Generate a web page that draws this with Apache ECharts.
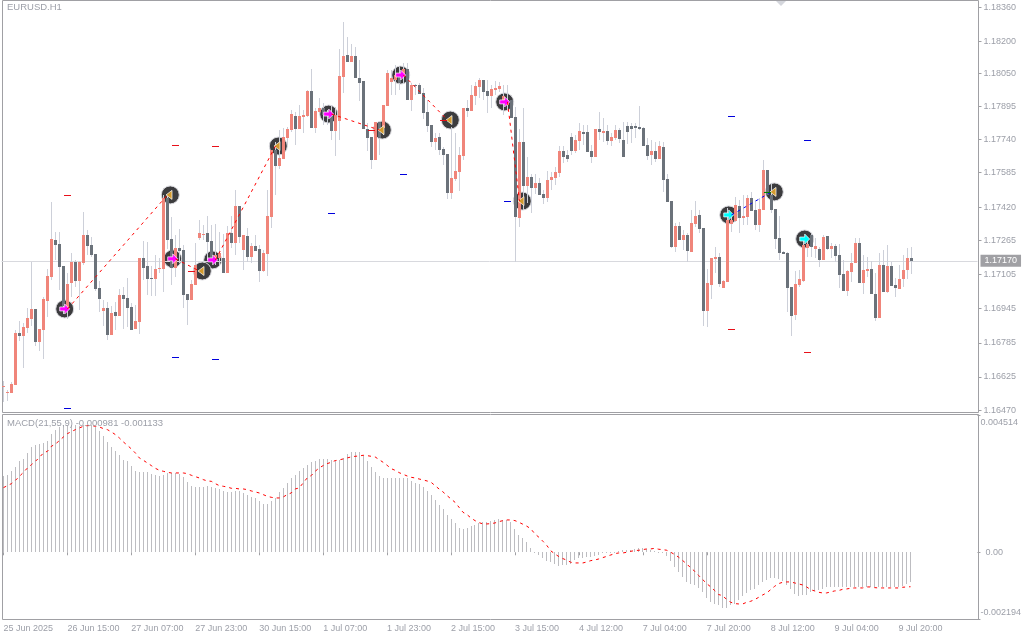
<!DOCTYPE html>
<html>
<head>
<meta charset="utf-8">
<style>html,body{margin:0;padding:0;background:#fff}#c{width:1024px;height:640px}</style>
<script src="https://cdn.jsdelivr.net/npm/echarts@6/dist/echarts.min.js"></script>
</head>
<body>
<div id="c"></div>
<script>
const tickLabels=['25 Jun 2025','26 Jun 15:00','27 Jun 07:00','27 Jun 23:00','30 Jun 15:00','1 Jul 07:00','1 Jul 23:00','2 Jul 15:00','3 Jul 15:00','4 Jul 12:00','7 Jul 04:00','7 Jul 20:00','8 Jul 12:00','9 Jul 04:00','9 Jul 20:00'];
const priceTicks=[1.18360,1.18200,1.18050,1.17895,1.17740,1.17585,1.17420,1.17265,1.17105,1.16945,1.16785,1.16625,1.16470];
const macdTicks=[-0.002194,0,0.004514];
const lastPrice=1.17170;
const opens=[1.16578,1.16550,1.16550,1.16588,1.16831,1.16817,1.16855,1.16897,1.16944,1.16789,
1.16845,1.16981,1.17094,1.17267,1.17248,1.17146,1.16939,1.17066,1.17165,1.17075,
1.17160,1.17291,1.17244,1.17202,1.17043,1.16934,1.16948,1.16822,1.16930,1.16911,
1.17009,1.16995,1.16953,1.16850,1.16883,1.17183,1.17146,1.17089,1.17085,1.17132,
1.17132,1.17464,1.17272,1.17136,1.17230,1.17221,1.17014,1.16986,1.17057,1.17277,
1.17291,1.17300,1.17262,1.17174,1.17183,1.17183,1.17113,1.17300,1.17253,1.17427,
1.17221,1.17286,1.17188,1.17239,1.17225,1.17122,1.17202,1.17375,1.17690,1.17615,
1.17648,1.17746,1.17783,1.17849,1.17788,1.17844,1.17849,1.17966,1.17793,1.17868,
1.17886,1.17849,1.17853,1.17779,1.17825,1.18032,1.18135,1.18102,1.18130,1.18027,
1.18013,1.17788,1.17750,1.17643,1.17821,1.17793,1.17896,1.18009,1.18018,1.18041,
1.18037,1.18070,1.17924,1.17994,1.17994,1.17957,1.17868,1.17807,1.17727,1.17750,
1.17694,1.17671,1.17488,1.17554,1.17587,1.17662,1.17886,1.17872,1.17943,1.17985,
1.18018,1.17966,1.17943,1.17971,1.17976,1.17910,1.17900,1.17924,1.17844,1.17371,
1.17727,1.17521,1.17563,1.17511,1.17535,1.17483,1.17464,1.17549,1.17558,1.17582,
1.17685,1.17666,1.17750,1.17685,1.17732,1.17774,1.17774,1.17685,1.17657,1.17788,
1.17769,1.17779,1.17732,1.17746,1.17783,1.17736,1.17802,1.17802,1.17802,1.17797,
1.17793,1.17713,1.17666,1.17685,1.17648,1.17704,1.17554,1.17450,1.17235,1.17333,
1.17267,1.17291,1.17211,1.17342,1.17385,1.17324,1.16934,1.17057,1.17178,1.17188,
1.17043,1.17071,1.17342,1.17356,1.17427,1.17371,1.17375,1.17464,1.17408,1.17337,
1.17408,1.17596,1.17479,1.17413,1.17277,1.17211,1.17207,1.17047,1.16915,1.17057,
1.17075,1.17230,1.17291,1.17225,1.17225,1.17174,1.17286,1.17225,1.17239,1.17197,
1.17108,1.17028,1.17118,1.17160,1.17253,1.17066,1.17122,1.17132,1.17014,1.16901,
1.17151,1.17024,1.17146,1.17057,1.17038,1.17085,1.17127,1.17183];
const closes=[1.16583,1.16555,1.16592,1.16831,1.16817,1.16859,1.16901,1.16944,1.16789,1.16850,
1.16991,1.17099,1.17272,1.17244,1.17141,1.16958,1.17061,1.17165,1.17075,1.17165,
1.17291,1.17239,1.17197,1.17038,1.16991,1.16948,1.16822,1.16925,1.16911,1.17009,
1.16991,1.16948,1.16845,1.16887,1.17183,1.17136,1.17085,1.17085,1.17132,1.17136,
1.17464,1.17267,1.17136,1.17230,1.17216,1.17009,1.16986,1.17061,1.17151,1.17300,
1.17295,1.17258,1.17183,1.17197,1.17207,1.17113,1.17300,1.17253,1.17427,1.17281,
1.17291,1.17188,1.17239,1.17216,1.17122,1.17207,1.17380,1.17690,1.17615,1.17652,
1.17750,1.17788,1.17858,1.17788,1.17849,1.17853,1.17966,1.17793,1.17872,1.17886,
1.17853,1.17863,1.17779,1.17853,1.18037,1.18130,1.18102,1.18130,1.18027,1.18004,
1.17788,1.17746,1.17643,1.17821,1.17746,1.17900,1.18051,1.18027,1.18041,1.18004,
1.18070,1.17924,1.17994,1.17990,1.17952,1.17863,1.17802,1.17727,1.17746,1.17690,
1.17666,1.17488,1.17558,1.17591,1.17666,1.17886,1.17872,1.17948,1.17990,1.18018,
1.17962,1.17943,1.17976,1.17980,1.17990,1.17943,1.17924,1.17839,1.17375,1.17727,
1.17521,1.17563,1.17511,1.17535,1.17479,1.17464,1.17549,1.17563,1.17587,1.17685,
1.17657,1.17648,1.17685,1.17736,1.17779,1.17765,1.17680,1.17657,1.17788,1.17774,
1.17779,1.17732,1.17750,1.17783,1.17741,1.17657,1.17774,1.17788,1.17793,1.17788,
1.17708,1.17662,1.17685,1.17648,1.17708,1.17549,1.17446,1.17235,1.17333,1.17267,
1.17291,1.17216,1.17347,1.17380,1.17319,1.16934,1.17066,1.17183,1.17188,1.17061,
1.17075,1.17361,1.17361,1.17432,1.17371,1.17380,1.17464,1.17403,1.17337,1.17413,
1.17596,1.17479,1.17408,1.17272,1.17207,1.17202,1.17043,1.16911,1.17061,1.17085,
1.17244,1.17248,1.17235,1.17239,1.17174,1.17281,1.17225,1.17239,1.17193,1.17104,
1.17028,1.17122,1.17160,1.17253,1.17066,1.17127,1.17132,1.17014,1.16901,1.17151,
1.17024,1.17146,1.17052,1.17042,1.17085,1.17127,1.17183,1.17170];
const highs=[1.16606,1.16564,1.16602,1.16845,1.16887,1.16878,1.16948,1.17165,1.16944,1.16850,
1.17000,1.17132,1.17446,1.17305,1.17305,1.17146,1.17113,1.17207,1.17174,1.17169,
1.17399,1.17314,1.17281,1.17202,1.17075,1.16986,1.16977,1.16958,1.16977,1.17038,
1.17047,1.17089,1.16972,1.16963,1.17183,1.17262,1.17258,1.17146,1.17198,1.17183,
1.17478,1.17478,1.17375,1.17291,1.17319,1.17244,1.17014,1.17080,1.17253,1.17361,
1.17337,1.17380,1.17337,1.17342,1.17305,1.17295,1.17333,1.17380,1.17502,1.17427,
1.17291,1.17324,1.17253,1.17291,1.17244,1.17221,1.17502,1.17690,1.17727,1.17783,
1.17793,1.17797,1.17877,1.17868,1.17900,1.17877,1.17971,1.18070,1.17886,1.17933,
1.17910,1.17877,1.17900,1.17891,1.18163,1.18290,1.18219,1.18186,1.18172,1.18112,
1.18013,1.17816,1.17750,1.17821,1.17821,1.17900,1.18065,1.18065,1.18088,1.18079,
1.18098,1.18098,1.18004,1.17999,1.18004,1.17980,1.17924,1.17807,1.17769,1.17769,
1.17704,1.17671,1.17797,1.17769,1.17704,1.17886,1.17924,1.17994,1.18009,1.18027,
1.18018,1.18018,1.17994,1.18013,1.18009,1.17994,1.17994,1.17924,1.17891,1.17788,
1.17886,1.17657,1.17577,1.17577,1.17558,1.17502,1.17591,1.17587,1.17610,1.17708,
1.17708,1.17690,1.17769,1.17760,1.17816,1.17807,1.17807,1.17713,1.17788,1.17868,
1.17840,1.17807,1.17769,1.17807,1.17793,1.17821,1.17821,1.17816,1.17816,1.17896,
1.17797,1.17746,1.17736,1.17727,1.17732,1.17727,1.17577,1.17450,1.17347,1.17352,
1.17314,1.17300,1.17408,1.17450,1.17408,1.17324,1.17132,1.17183,1.17235,1.17207,
1.17080,1.17418,1.17385,1.17469,1.17455,1.17478,1.17478,1.17493,1.17455,1.17464,
1.17643,1.17596,1.17535,1.17413,1.17380,1.17216,1.17211,1.17047,1.17122,1.17127,
1.17267,1.17281,1.17295,1.17277,1.17235,1.17291,1.17286,1.17253,1.17248,1.17248,
1.17174,1.17127,1.17207,1.17277,1.17277,1.17197,1.17188,1.17169,1.17113,1.17207,
1.17221,1.17244,1.17165,1.17089,1.17151,1.17197,1.17230,1.17235];
const lows=[1.16508,1.16512,1.16550,1.16588,1.16793,1.16667,1.16831,1.16864,1.16771,1.16747,
1.16709,1.16906,1.17080,1.17174,1.17033,1.16920,1.16897,1.17000,1.17047,1.16939,
1.17151,1.17197,1.17188,1.17028,1.16930,1.16864,1.16798,1.16822,1.16845,1.16911,
1.16850,1.16859,1.16845,1.16850,1.16827,1.17080,1.17009,1.17005,1.17005,1.17113,
1.17024,1.17225,1.17057,1.17094,1.17160,1.16948,1.16869,1.16986,1.17057,1.17267,
1.17267,1.17174,1.17165,1.17151,1.17151,1.17113,1.17113,1.17230,1.17197,1.17253,
1.17127,1.17165,1.17160,1.17216,1.17071,1.17118,1.17099,1.17324,1.17479,1.17601,
1.17648,1.17713,1.17774,1.17713,1.17788,1.17769,1.17844,1.17793,1.17769,1.17863,
1.17807,1.17807,1.17736,1.17662,1.17736,1.17957,1.18102,1.18102,1.18027,1.17919,
1.17788,1.17685,1.17601,1.17643,1.17666,1.17760,1.17896,1.17948,1.17948,1.17971,
1.18004,1.17924,1.17872,1.17948,1.17952,1.17835,1.17774,1.17704,1.17690,1.17666,
1.17619,1.17460,1.17460,1.17544,1.17497,1.17643,1.17844,1.17872,1.17900,1.17933,
1.17924,1.17863,1.17886,1.17948,1.17962,1.17853,1.17877,1.17839,1.17165,1.17328,
1.17408,1.17441,1.17394,1.17483,1.17479,1.17436,1.17446,1.17502,1.17525,1.17563,
1.17629,1.17633,1.17666,1.17676,1.17690,1.17713,1.17680,1.17629,1.17657,1.17736,
1.17727,1.17713,1.17708,1.17736,1.17722,1.17657,1.17718,1.17722,1.17746,1.17783,
1.17708,1.17643,1.17619,1.17633,1.17648,1.17493,1.17446,1.17230,1.17211,1.17267,
1.17221,1.17165,1.17211,1.17328,1.17300,1.16864,1.16859,1.16991,1.17113,1.17047,
1.17043,1.17071,1.17305,1.17352,1.17300,1.17337,1.17337,1.17403,1.17314,1.17305,
1.17408,1.17479,1.17394,1.17225,1.17174,1.17202,1.16930,1.16817,1.16892,1.17047,
1.17071,1.17188,1.17188,1.17183,1.17141,1.17174,1.17221,1.17183,1.17165,1.17042,
1.17028,1.17005,1.17071,1.17160,1.17066,1.17014,1.17094,1.17014,1.16887,1.16901,
1.17024,1.17019,1.17052,1.17000,1.17038,1.17047,1.17085,1.17108];
const macdHist=[0.002499,0.002554,0.002663,0.002795,0.002992,0.003080,0.003255,0.003452,0.003518,0.003551,
0.003595,0.003672,0.003902,0.004033,0.004121,0.004176,0.004176,0.004176,0.004176,0.004143,
0.004176,0.004176,0.004176,0.004110,0.003978,0.003814,0.003628,0.003452,0.003321,0.003189,
0.003047,0.002992,0.002850,0.002685,0.002630,0.002652,0.002652,0.002587,0.002554,0.002521,
0.002554,0.002608,0.002608,0.002608,0.002587,0.002488,0.002324,0.002192,0.002159,0.002159,
0.002159,0.002192,0.002159,0.002126,0.002082,0.002028,0.001995,0.001995,0.002028,0.002028,
0.001962,0.001896,0.001830,0.001797,0.001699,0.001600,0.001600,0.001699,0.001797,0.001995,
0.002126,0.002291,0.002455,0.002554,0.002685,
0.002784,0.002882,0.002981,0.003014,0.003080,0.003080,0.003080,0.003047,0.003014,0.003047,
0.003113,0.003233,0.003310,0.003310,0.003310,0.003178,0.003014,0.002817,0.002652,0.002521,
0.002455,0.002455,0.002455,0.002455,0.002455,0.002455,0.002455,0.002356,0.002291,0.002258,
0.002159,0.002028,0.001896,0.001732,0.001567,0.001436,0.001238,0.001107,0.000975,0.000811,
0.000778,0.000811,0.000877,0.000910,0.000975,0.001008,0.001008,0.001041,0.001074,0.001107,
0.001074,0.001074,0.001008,0.000778,0.000581,0.000482,0.000351,0.000153,0.000022,-0.000077,
-0.000197,-0.000296,-0.000329,-0.000373,-0.000438,-0.000406,-0.000406,-0.000373,-0.000241,-0.000175,
-0.000175,-0.000142,-0.000142,-0.000110,-0.000077,-0.000033,0.000000,0.000022,0.000022,0.000055,
0.000066,0.000066,0.000088,0.000110,0.000132,0.000142,0.000110,0.000088,0.000044,0.000022,
0.000000,-0.000110,-0.000296,-0.000482,-0.000658,-0.000822,-0.000975,-0.001041,-0.001085,-0.001173,
-0.001315,-0.001512,-0.001633,-0.001688,-0.001732,-0.001841,-0.001841,-0.001721,-0.001688,-0.001556,
-0.001447,-0.001337,-0.001249,-0.001206,-0.001063,-0.000986,-0.000899,-0.000855,-0.000844,-0.000877,
-0.000954,-0.001063,-0.001206,-0.001359,-0.001425,-0.001414,-0.001392,-0.001315,-0.001282,-0.001228,
-0.001206,-0.001151,-0.001140,-0.001140,-0.001140,-0.001140,-0.001140,-0.001140,-0.001140,-0.001140,
-0.001140,-0.001140,-0.001140,-0.001140,-0.001140,-0.001140,-0.001140,-0.001140,-0.001140,-0.001140,
-0.001118,-0.001041,-0.000981];
const macdSignal=[0.002126,0.002192,0.002258,0.002367,0.002499,0.002630,0.002773,0.002882,0.002992,0.003124,
0.003266,0.003321,0.003485,0.003562,0.003672,0.003792,0.003902,0.003968,0.004033,0.004088,
0.004143,0.004165,0.004165,0.004143,0.004121,0.004066,0.004033,0.003957,0.003869,0.003759,
0.003628,0.003518,0.003398,0.003266,0.003102,0.003025,0.002937,0.002850,0.002762,0.002696,
0.002663,0.002630,0.002608,0.002608,0.002608,0.002608,0.002587,0.002532,0.002488,0.002444,
0.002389,0.002345,0.002334,0.002258,0.002192,0.002170,0.002148,0.002104,0.002104,0.002082,
0.002082,0.002060,0.002017,0.001984,0.001951,0.001896,0.001841,0.001808,0.001786,0.001786,
0.001819,0.001896,0.001951,0.002082,0.002115,
0.002280,0.002444,0.002521,0.002663,0.002773,0.002850,0.002915,0.002959,0.003014,0.003036,
0.003069,0.003102,0.003135,0.003156,0.003167,0.003189,0.003178,0.003156,0.003135,0.003047,
0.002959,0.002861,0.002751,0.002696,0.002619,0.002565,0.002510,0.002466,0.002444,0.002411,
0.002378,0.002345,0.002302,0.002192,0.002082,0.001984,0.001863,0.001754,0.001644,0.001480,
0.001315,0.001238,0.001129,0.001041,0.000975,0.000932,0.000932,0.000943,0.000964,0.001008,
0.001041,0.001063,0.001063,0.001041,0.000986,0.000921,0.000855,0.000767,0.000603,0.000493,
0.000362,0.000219,0.000044,-0.000055,-0.000142,-0.000208,-0.000263,-0.000329,-0.000351,-0.000351,
-0.000351,-0.000318,-0.000274,-0.000252,-0.000219,-0.000175,-0.000132,-0.000088,-0.000044,-0.000022,
-0.000022,0.000000,0.000033,0.000055,0.000066,0.000088,0.000110,0.000110,0.000132,0.000099,
0.000088,0.000066,0.000000,-0.000077,-0.000164,-0.000274,-0.000384,-0.000515,-0.000625,-0.000767,
-0.000899,-0.001030,-0.001140,-0.001260,-0.001392,-0.001425,-0.001556,-0.001644,-0.001688,-0.001699,
-0.001699,-0.001644,-0.001611,-0.001556,-0.001480,-0.001403,-0.001337,-0.001228,-0.001118,-0.001030,
-0.000986,-0.000975,-0.000975,-0.001008,-0.001041,-0.001074,-0.001140,-0.001228,-0.001271,-0.001315,
-0.001337,-0.001337,-0.001304,-0.001271,-0.001260,-0.001217,-0.001206,-0.001184,-0.001173,-0.001173,
-0.001173,-0.001140,-0.001140,-0.001162,-0.001173,-0.001173,-0.001173,-0.001173,-0.001173,-0.001173,
-0.001151,-0.001140,-0.001133];
const buyEntryIdx=[16,43,53,82,100,126];
const buyEntryPrice=[1.16944,1.17179,1.17174,1.17858,1.18041,1.17915];
const sellEntryIdx=[182,201];
const sellEntryPrice=[1.17385,1.17272];
const exitIdx=[41,49,68,94,111,129,192];
const exitPrice=[1.17479,1.17122,1.17708,1.17783,1.17830,1.17450,1.17493];
const upperRedIdx=[16,43,53,182,201];
const upperRedPrice=[1.17479,1.17713,1.17708,1.16850,1.16742];
const blueIdx=[16,43,53,82,100,126,182,201];
const bluePrice=[1.16479,1.16719,1.16709,1.17394,1.17577,1.17450,1.17849,1.17736];
const redTickIdx=[47,92,110];
const redTickPrice=[1.17122,1.17783,1.17830];
const greenTickIdx=[191];
const greenTickPrice=[1.17493];

const BAR_SLOTS=244;
const categories=Array.from({length:BAR_SLOTS},(_,i)=>i%16===0&&tickLabels[i/16]?tickLabels[i/16]:'');
const candleData=opens.map((o,i)=>[i,o,closes[i],lows[i],highs[i]]);
const entries=buyEntryIdx.map((x,i)=>[x,buyEntryPrice[i]]);
const sells=sellEntryIdx.map((x,i)=>[x,sellEntryPrice[i]]);
const exits=exitIdx.map((x,i)=>[x,exitPrice[i]]);
const allEntries=entries.concat(sells);

const UP='#F0857A',DOWN='#6B727A',WICK='#CDD0D9',TXT='#9C9FA8',FRAME='#A0A0A4';
const FONT='"Liberation Sans",sans-serif';

function renderCandle(p,api){
  const i=api.value(0),o=api.value(1),c=api.value(2),l=api.value(3),h=api.value(4);
  const cx=api.coord([i,o])[0];
  const y=v=>Math.round(api.coord([i,v])[1]);
  const top=y(Math.max(o,c)),bot=y(Math.min(o,c));
  return {type:'group',children:[
    {type:'rect',shape:{x:cx-0.5,y:y(h),width:1,height:Math.max(1,y(l)-y(h))},style:{fill:WICK}},
    {type:'rect',shape:{x:cx-1.5,y:top,width:3,height:Math.max(1,bot-top)},style:{fill:c>=o?UP:DOWN}}
  ]};
}
function renderHist(p,api){
  const i=api.value(0),v=api.value(1);
  const a=api.coord([i,v]),b=api.coord([i,0]);
  const y0=Math.round(a[1]),y1=Math.round(b[1]);
  return {type:'rect',shape:{x:Math.round(a[0]-0.5),y:Math.min(y0,y1),width:1,height:Math.max(1,Math.abs(y1-y0))},style:{fill:'#BDBDC1'}};
}
function dashSeries(idx,price,color){
  return {type:'custom',xAxisIndex:0,yAxisIndex:0,z:6,silent:true,clip:true,
    data:idx.map((x,i)=>[x,price[i]]),encode:{x:0,y:1},
    renderItem:(p,api)=>{
      const c=api.coord([api.value(0),api.value(1)]);
      return {type:'rect',shape:{x:c[0]-3.5,y:Math.round(c[1]),width:7,height:1},style:{fill:color}};
    }};
}
function tradeLine(a,b,color){
  return {type:'line',xAxisIndex:0,yAxisIndex:0,z:5,silent:true,symbol:'none',data:[a,b],
    lineStyle:{color:color,width:1,type:[3,4]}};
}
const ARROW='path://M0 3H5V0L10 5L5 10V7H0Z';
const TRI='path://M10 0V10L0 5Z';

const option={
  animation:false,backgroundColor:'#ffffff',
  textStyle:{fontFamily:FONT},
  title:[
    {text:'EURUSD.H1',left:7,top:2,padding:0,textStyle:{fontSize:9.5,fontWeight:'normal',color:TXT,fontFamily:FONT}},
    {text:'MACD(21,55,9) -0.000981 -0.001133',left:7,top:418,padding:0,textStyle:{fontSize:9.5,fontWeight:'normal',color:TXT,fontFamily:FONT}}
  ],
  graphic:[
    {type:'rect',silent:true,z:0,shape:{x:2.5,y:0.5,width:976,height:412},style:{fill:'none',stroke:FRAME,lineWidth:1}},
    {type:'rect',silent:true,z:0,shape:{x:2.5,y:414.5,width:976,height:205},style:{fill:'none',stroke:FRAME,lineWidth:1}},
    {type:'polygon',silent:true,z:10,shape:{points:[[776,1],[786,1],[781,6]]},style:{fill:'#D4D6DC'}}
  ],
  grid:[
    {left:1.5,width:976,top:1,height:411,containLabel:false},
    {left:1.5,width:976,top:415,height:204,containLabel:false}
  ],
  xAxis:[
    {type:'category',gridIndex:0,data:categories,show:false,boundaryGap:true},
    {type:'category',gridIndex:1,data:categories,boundaryGap:true,
      axisLine:{show:false},
      axisTick:{show:true,alignWithLabel:true,length:3,lineStyle:{color:FRAME},interval:(i,v)=>v!==''},
      axisLabel:{interval:(i,v)=>v!=='',align:'left',margin:5,fontSize:9,color:TXT,fontFamily:FONT,hideOverlap:false,showMinLabel:true,showMaxLabel:true},
      splitLine:{show:false}}
  ],
  yAxis:[
    {type:'value',gridIndex:0,position:'right',offset:1,scale:true,min:1.164607,max:1.183883,
      splitLine:{show:false},axisLine:{show:false},
      axisTick:{show:true,length:3,customValues:priceTicks,lineStyle:{color:FRAME}},
      axisLabel:{customValues:priceTicks,margin:5,fontSize:9,color:TXT,fontFamily:FONT,formatter:v=>v.toFixed(5),showMinLabel:true,showMaxLabel:true}},
    {type:'value',gridIndex:1,position:'right',offset:1,min:-0.002194,max:0.004514,
      splitLine:{show:false},axisLine:{show:false},
      axisTick:{show:true,length:3,customValues:macdTicks,lineStyle:{color:FRAME}},
      axisLabel:{customValues:macdTicks,margin:3,fontSize:9,color:TXT,fontFamily:FONT,padding:[3,0,2,0],
        verticalAlignMinLabel:'bottom',verticalAlignMaxLabel:'top',
        formatter:v=>v===0?'  0.00':v.toFixed(6)}}
  ],
  series:[
    {type:'scatter',xAxisIndex:0,yAxisIndex:0,z:1,silent:true,data:allEntries,symbol:'circle',symbolSize:18,symbolOffset:[-2.8,0],
      itemStyle:{color:'#3C3C3E',borderColor:'#DADADF',borderWidth:1,opacity:1}},
    {type:'scatter',xAxisIndex:0,yAxisIndex:0,z:1,silent:true,data:exits,symbol:'circle',symbolSize:18,symbolOffset:[2.8,0],
      itemStyle:{color:'#3C3C3E',borderColor:'#DADADF',borderWidth:1,opacity:1}},
    {type:'custom',xAxisIndex:0,yAxisIndex:0,z:3,silent:true,clip:true,data:candleData,
      encode:{x:0,y:[1,2,3,4]},renderItem:renderCandle,
      markLine:{silent:true,symbol:'none',z:2,animation:false,precision:5,
        lineStyle:{color:'#D8D9DE',width:1,type:'solid'},
        label:{show:true,position:'end',distance:3,formatter:()=>lastPrice.toFixed(5),color:'#ffffff',backgroundColor:'#A0A0A4',
          padding:[2,4,1,4],fontSize:9,fontFamily:FONT},
        data:[{yAxis:lastPrice}]}},
    {type:'scatter',xAxisIndex:0,yAxisIndex:0,z:4,silent:true,data:entries,symbol:ARROW,symbolSize:10,symbolOffset:[-2.8,0],
      itemStyle:{color:'#FF00FF',borderColor:'#ffffff',borderWidth:0.7,opacity:1}},
    {type:'scatter',xAxisIndex:0,yAxisIndex:0,z:4,silent:true,data:sells,symbol:ARROW,symbolSize:10,symbolOffset:[-2.8,0],
      itemStyle:{color:'#00FFFF',borderColor:'#ffffff',borderWidth:0.7,opacity:1}},
    {type:'scatter',xAxisIndex:0,yAxisIndex:0,z:4,silent:true,data:exits,symbol:TRI,symbolSize:[6,9],symbolOffset:[1.5,0],
      itemStyle:{color:'#D39A2D',borderColor:'#ffffff',borderWidth:0.7,opacity:1}},
    tradeLine(entries[0],exits[0],'#FF0000'),
    tradeLine(entries[1],exits[1],'#FF0000'),
    tradeLine(entries[2],exits[2],'#FF0000'),
    tradeLine(entries[3],exits[3],'#FF0000'),
    tradeLine(entries[4],exits[4],'#FF0000'),
    tradeLine(entries[5],exits[5],'#FF0000'),
    tradeLine(sells[0],exits[6],'#0000FF'),
    dashSeries(upperRedIdx,upperRedPrice,'#E8101A'),
    dashSeries(blueIdx,bluePrice,'#0000DD'),
    dashSeries(redTickIdx,redTickPrice,'#E8101A'),
    dashSeries(greenTickIdx,greenTickPrice,'#008000'),
    {type:'custom',xAxisIndex:1,yAxisIndex:1,z:2,silent:true,clip:true,data:macdHist.map((v,i)=>[i,v]),encode:{x:0,y:1},renderItem:renderHist},
    {type:'line',xAxisIndex:1,yAxisIndex:1,z:3,silent:true,symbol:'none',data:macdSignal,lineStyle:{color:'#FF0000',width:1,type:[3,4]}}
  ]
};
echarts.init(document.getElementById('c'),null,{renderer:'canvas'}).setOption(option);
</script>
</body>
</html>
